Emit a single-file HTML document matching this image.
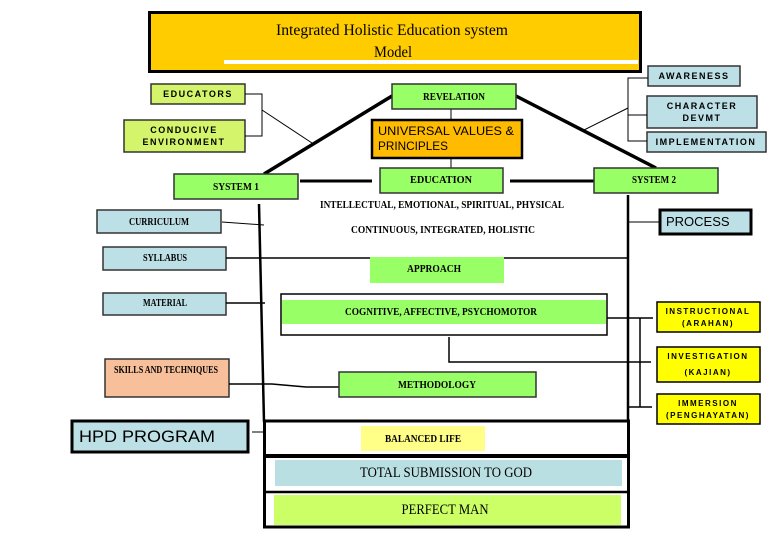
<!DOCTYPE html>
<html><head><meta charset="utf-8"><style>
html,body{margin:0;padding:0;background:#fff;}
svg{display:block;}
.s{font-family:"Liberation Serif",serif;font-size:11px;fill:#000;}
.sb{font-family:"Liberation Serif",serif;font-size:11px;font-weight:bold;fill:#000;}
.b{font-family:"Liberation Sans",sans-serif;font-size:9px;font-weight:bold;letter-spacing:1.5px;fill:#000;}
.b8{font-family:"Liberation Sans",sans-serif;font-size:8px;font-weight:bold;letter-spacing:1.5px;fill:#000;}
.a{font-family:"Liberation Sans",sans-serif;fill:#000;}
</style></head><body>
<svg width="778" height="540" viewBox="0 0 778 540" xmlns="http://www.w3.org/2000/svg">
<!-- title -->
<rect x="149.5" y="12.5" width="491" height="59" fill="#FFCC00" stroke="#000" stroke-width="3"/>
<rect x="224" y="60" width="414" height="4" fill="#fff"/>
<text x="392" y="35" text-anchor="middle" class="s" style="font-size:16px" textLength="232" lengthAdjust="spacingAndGlyphs">Integrated  Holistic Education  system</text>
<text x="393" y="57" text-anchor="middle" class="s" style="font-size:16px" textLength="38" lengthAdjust="spacingAndGlyphs">Model</text>

<!-- right top boxes -->
<rect x="648" y="66" width="92" height="20" fill="#BDE0E6" stroke="#333" stroke-width="1.5"/>
<text x="694" y="79" text-anchor="middle" class="b">AWARENESS</text>
<rect x="647" y="96" width="110" height="32" fill="#BDE0E6" stroke="#333" stroke-width="1.5"/>
<text x="702" y="109" text-anchor="middle" class="b">CHARACTER</text>
<text x="702" y="121" text-anchor="middle" class="b">DEVMT</text>
<rect x="647" y="132" width="119" height="20" fill="#BDE0E6" stroke="#333" stroke-width="1.5"/>
<text x="706" y="145" text-anchor="middle" class="b">IMPLEMENTATION</text>
<path d="M648 78H628V141H647M628 115H647M628 108L584 130" fill="none" stroke="#000" stroke-width="1"/>

<!-- left top boxes -->
<rect x="151" y="84" width="94" height="20" fill="#D4F56B" stroke="#333" stroke-width="1.5"/>
<text x="198" y="97" text-anchor="middle" class="b">EDUCATORS</text>
<rect x="124" y="120" width="121" height="32" fill="#D4F56B" stroke="#333" stroke-width="1.5"/>
<text x="184" y="133" text-anchor="middle" class="b">CONDUCIVE</text>
<text x="184" y="145" text-anchor="middle" class="b">ENVIRONMENT</text>
<path d="M245 94H262V136H245M262 110L312 143" fill="none" stroke="#000" stroke-width="1"/>

<!-- roof -->
<path d="M264 174L392 96M516 96L656 168" stroke="#000" stroke-width="3.5"/>
<path d="M451 109V168" stroke="#000" stroke-width="1"/>
<rect x="392" y="84" width="124" height="25" fill="#99FF66" stroke="#333" stroke-width="1.5"/>
<text x="454" y="100" text-anchor="middle" class="sb" textLength="62" lengthAdjust="spacingAndGlyphs">REVELATION</text>
<rect x="372" y="120" width="150" height="38" fill="#FFBB00" stroke="#000" stroke-width="2.5"/>
<text x="378" y="135" class="a" style="font-size:12px" textLength="136" lengthAdjust="spacingAndGlyphs">UNIVERSAL VALUES &amp;</text>
<text x="378" y="150" class="a" style="font-size:12px" textLength="70" lengthAdjust="spacingAndGlyphs">PRINCIPLES</text>

<path d="M300 181H372M510 181H594" stroke="#000" stroke-width="3"/>
<rect x="380" y="168" width="123" height="25" fill="#99FF66" stroke="#333" stroke-width="1.5"/>
<text x="441" y="183" text-anchor="middle" class="sb" textLength="62" lengthAdjust="spacingAndGlyphs">EDUCATION</text>
<rect x="174" y="174" width="124" height="25" fill="#99FF66" stroke="#333" stroke-width="1.5"/>
<text x="236" y="190" text-anchor="middle" class="sb" textLength="46" lengthAdjust="spacingAndGlyphs">SYSTEM 1</text>
<rect x="594" y="168" width="124" height="25" fill="#99FF66" stroke="#333" stroke-width="1.5"/>
<text x="654" y="183" text-anchor="middle" class="sb" textLength="44" lengthAdjust="spacingAndGlyphs">SYSTEM 2</text>

<text x="442" y="208" text-anchor="middle" class="sb" textLength="244" lengthAdjust="spacingAndGlyphs">INTELLECTUAL, EMOTIONAL, SPIRITUAL, PHYSICAL</text>
<text x="443" y="233" text-anchor="middle" class="sb" textLength="184" lengthAdjust="spacingAndGlyphs">CONTINUOUS, INTEGRATED, HOLISTIC</text>

<!-- main verticals -->
<path d="M259 204L264 422" stroke="#000" stroke-width="2.5"/>
<path d="M628 195V480" stroke="#000" stroke-width="2.5"/>

<rect x="97" y="210" width="124" height="23" fill="#BDE0E6" stroke="#333" stroke-width="1.5"/>
<text x="159" y="225" text-anchor="middle" class="sb" textLength="60" lengthAdjust="spacingAndGlyphs">CURRICULUM</text>
<path d="M222 222L264 225" stroke="#000" stroke-width="1"/>
<rect x="660" y="210" width="91" height="24" fill="#BDE0E6" stroke="#000" stroke-width="3"/>
<text x="666" y="226" class="a" style="font-size:13px">PROCESS</text>
<path d="M628 222H660" stroke="#000" stroke-width="1"/>

<rect x="103" y="247" width="123" height="23" fill="#BDE0E6" stroke="#333" stroke-width="1.5"/>
<text x="165" y="261" text-anchor="middle" class="sb" textLength="44" lengthAdjust="spacingAndGlyphs">SYLLABUS</text>
<path d="M226 258H628" stroke="#000" stroke-width="1.5"/>
<rect x="370" y="257" width="134" height="26" fill="#99FF66"/>
<text x="434" y="272" text-anchor="middle" class="sb" textLength="54" lengthAdjust="spacingAndGlyphs">APPROACH</text>

<rect x="103" y="293" width="123" height="22" fill="#BDE0E6" stroke="#333" stroke-width="1.5"/>
<text x="165" y="306" text-anchor="middle" class="sb" textLength="44" lengthAdjust="spacingAndGlyphs">MATERIAL</text>
<path d="M226 303H265" stroke="#000" stroke-width="1.5"/>

<rect x="281" y="294" width="326" height="41" fill="#fff" stroke="#000" stroke-width="1.5"/>
<rect x="282" y="300" width="324" height="24" fill="#99FF66"/>
<text x="441" y="315" text-anchor="middle" class="sb" textLength="192" lengthAdjust="spacingAndGlyphs">COGNITIVE, AFFECTIVE, PSYCHOMOTOR</text>

<path d="M607 318H653M640 318V407M449 337V362H651M628 407H652" fill="none" stroke="#000" stroke-width="1.5"/>
<rect x="657" y="302" width="103" height="30" fill="#FFFF00" stroke="#000" stroke-width="1.5"/>
<text x="708" y="314" text-anchor="middle" class="b8">INSTRUCTIONAL</text>
<text x="708" y="326" text-anchor="middle" class="b8">(ARAHAN)</text>
<rect x="657" y="347" width="103" height="35" fill="#FFFF00" stroke="#000" stroke-width="1.5"/>
<text x="708" y="359" text-anchor="middle" class="b8">INVESTIGATION</text>
<text x="708" y="375" text-anchor="middle" class="b8">(KAJIAN)</text>
<rect x="657" y="394" width="103" height="30" fill="#FFFF00" stroke="#000" stroke-width="1.5"/>
<text x="708" y="406" text-anchor="middle" class="b8">IMMERSION</text>
<text x="708" y="418" text-anchor="middle" class="b8">(PENGHAYATAN)</text>

<rect x="105" y="359" width="124" height="38" fill="#F8C09A" stroke="#333" stroke-width="1.5"/>
<text x="166" y="373" text-anchor="middle" class="sb" textLength="104" lengthAdjust="spacingAndGlyphs">SKILLS AND TECHNIQUES</text>
<path d="M229 384H272L306 387H340" fill="none" stroke="#000" stroke-width="1.5"/>
<rect x="339" y="372" width="197" height="25" fill="#99FF66" stroke="#333" stroke-width="1.5"/>
<text x="437" y="388" text-anchor="middle" class="sb" textLength="78" lengthAdjust="spacingAndGlyphs">METHODOLOGY</text>

<rect x="72" y="421" width="176" height="31" fill="#BDE0E6" stroke="#000" stroke-width="3"/>
<text x="79" y="442" class="a" style="font-size:17px" textLength="136" lengthAdjust="spacingAndGlyphs">HPD PROGRAM</text>
<path d="M252 432H272" stroke="#000" stroke-width="1"/>

<!-- bottom box -->
<rect x="264.5" y="421" width="364" height="106" fill="#fff" stroke="#000" stroke-width="3"/>
<path d="M264 456H629" stroke="#000" stroke-width="4"/>
<path d="M264 492H629" stroke="#000" stroke-width="2.5"/>
<rect x="361" y="426" width="124" height="25" fill="#FFFF88"/>
<text x="423" y="442" text-anchor="middle" class="sb" textLength="76" lengthAdjust="spacingAndGlyphs">BALANCED LIFE</text>
<rect x="275" y="460" width="347" height="26" fill="#BADFE2"/>
<text x="446" y="477" text-anchor="middle" class="s" style="font-size:15px" textLength="172" lengthAdjust="spacingAndGlyphs">TOTAL SUBMISSION TO GOD</text>
<rect x="274" y="495" width="347" height="30" fill="#CCFF66"/>
<text x="445" y="514" text-anchor="middle" class="s" style="font-size:15px" textLength="87" lengthAdjust="spacingAndGlyphs">PERFECT MAN</text>
</svg>
</body></html>
